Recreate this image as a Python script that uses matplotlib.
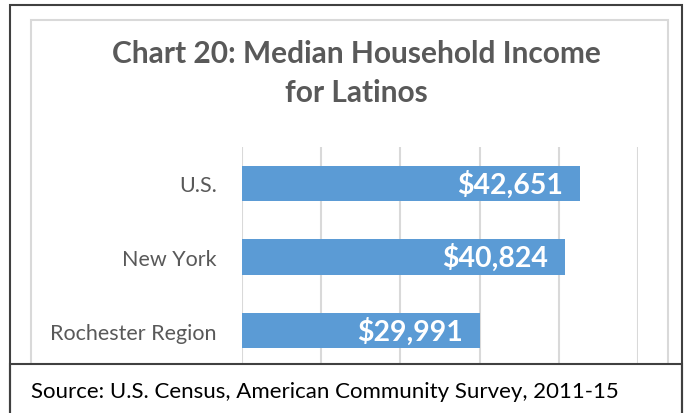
import matplotlib.pyplot as plt
from matplotlib.patches import Rectangle

plt.rcParams['font.family'] = ['Lato', 'DejaVu Sans']

# data
regions = ["Rochester Region", "New York", "U.S."]
incomes = [29991, 40824, 42651]
income_labels = ["$29,991", "$40,824", "$42,651"]

W, H = 691, 414
fig = plt.figure(figsize=(W / 100, H / 100), dpi=100)

def fx(px):
    return px / W

def fy(py):
    return 1 - py / H

# plot area
ax = fig.add_axes([fx(242), fy(368.5), fx(638 - 242), fy(147.5) - fy(368.5)])
ax.barh(regions, incomes, height=0.48, color="#5B9BD5", zorder=2)
ax.set_xlim(0, 50000)
ax.set_ylim(-0.5, 2.5)
ax.set_xticks(range(0, 50001, 10000))
ax.xaxis.grid(True, color="#D9D9D9", linewidth=1.5, zorder=0)
ax.tick_params(axis="x", length=0, labelbottom=False)
ax.tick_params(axis="y", length=0, pad=18, labelsize=15.5, labelcolor="#595959")
for s in ax.spines.values():
    s.set_visible(False)

for i, (v, lab) in enumerate(zip(incomes, income_labels)):
    ax.text(v - 2150, i, lab, ha="right", va="center", color="white",
            fontsize=20.5, fontweight="bold", zorder=3)

# chart area border
fig.patches.append(Rectangle((fx(31), fy(380)), fx(668 - 31), fy(21) - fy(380),
                             transform=fig.transFigure, fill=False,
                             edgecolor="#D9D9D9", linewidth=1.5, zorder=1))
# outer border
fig.patches.append(Rectangle((fx(10), fy(420)), fx(682 - 10), fy(6) - fy(420),
                             transform=fig.transFigure, fill=False,
                             edgecolor="#404040", linewidth=1.5, zorder=10))

fig.text(fx(356), fy(63), "Chart 20: Median Household Income", ha="center",
         va="baseline", fontsize=21.5, fontweight="bold", color="#595959")
fig.text(fx(356), fy(102), "for Latinos", ha="center",
         va="baseline", fontsize=21.5, fontweight="bold", color="#595959")

# source box
box = Rectangle((fx(10), fy(420)), fx(682 - 10), fy(365) - fy(420),
                transform=fig.transFigure, facecolor="white",
                edgecolor="#404040", linewidth=1.5, zorder=10)
fig.add_artist(box)
fig.text(fx(31), fy(398), "Source: U.S. Census, American Community Survey, 2011-15",
         ha="left", va="baseline", fontsize=16, color="black", zorder=11)

fig.savefig("out.png", dpi=100)
